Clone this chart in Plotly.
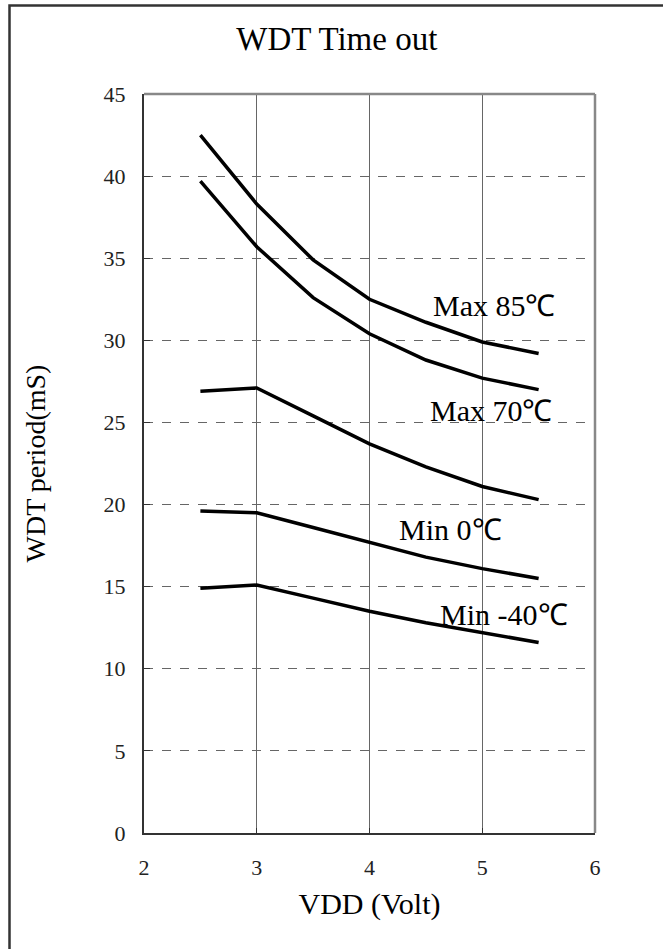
import plotly.graph_objects as go

vdd = [2.5, 3.0, 3.5, 4.0, 4.5, 5.0, 5.5]
max_85 = [42.5, 38.3, 34.9, 32.5, 31.1, 29.9, 29.2]
max_70 = [39.7, 35.7, 32.6, 30.4, 28.8, 27.7, 27.0]
typ_25 = [26.9, 27.1, 25.4, 23.7, 22.3, 21.1, 20.3]
min_0 = [19.6, 19.5, 18.6, 17.7, 16.8, 16.1, 15.5]
min_m40 = [14.9, 15.1, 14.3, 13.5, 12.8, 12.2, 11.6]

series = [("Max 85℃", max_85), ("Max 70℃", max_70), ("Typ", typ_25),
          ("Min 0℃", min_0), ("Min -40℃", min_m40)]

labels = ["Max 85℃", "Max 70℃", "Min 0℃", "Min -40℃"]
label_x = [5.11, 5.08, 4.72, 5.19]
label_y = [32.1, 25.75, 18.5, 13.3]

x_ticks = [2, 3, 4, 5, 6]
y_ticks = [0, 5, 10, 15, 20, 25, 30, 35, 40, 45]

FONT = "Liberation Serif"

fig = go.Figure()
for name, vals in series:
    fig.add_trace(go.Scatter(x=vdd, y=vals, mode="lines", name=name,
                             line=dict(color="black", width=3.5),
                             showlegend=False))

for t, xv, yv in zip(labels, label_x, label_y):
    fig.add_annotation(x=xv, y=yv, text=t, showarrow=False,
                       font=dict(family=FONT, size=30, color="black"),
                       xanchor="center", yanchor="middle")

fig.update_layout(
    width=663, height=949,
    margin=dict(l=144, r=68, t=94, b=116),
    paper_bgcolor="white", plot_bgcolor="white",
    font=dict(family=FONT, color="black"),
    title=dict(text="WDT Time out", x=0.508, xref="container", xanchor="center",
               y=1 - 38 / 949, yref="container", yanchor="middle",
               font=dict(family=FONT, size=33, color="black")),
    xaxis=dict(range=[2, 6], tickvals=x_ticks, ticktext=[str(v) for v in x_ticks],
               showgrid=True, gridcolor="#666", gridwidth=1,
               showline=True, linecolor="#333", linewidth=2,
               ticks="inside", ticklen=5, tickcolor="#333",
               tickfont=dict(family=FONT, size=22, color="#222"),
               ticklabelstandoff=14, zeroline=False,
               title=dict(text="VDD (Volt)", standoff=14,
                          font=dict(family=FONT, size=30, color="black"))),
    yaxis=dict(range=[0, 45], tickvals=y_ticks, ticktext=[str(v) for v in y_ticks],
               showgrid=True, gridcolor="#666", gridwidth=1, griddash="dash",
               showline=True, linecolor="#333", linewidth=2,
               ticks="inside", ticklen=6, tickcolor="#333",
               tickfont=dict(family=FONT, size=22, color="#222"),
               ticklabelstandoff=12, zeroline=False,
               title=dict(text="WDT period(mS)", standoff=50,
                          font=dict(family=FONT, size=28, color="black"))),
    shapes=[
        dict(type="line", xref="paper", yref="paper", x0=0, x1=1, y0=1, y1=1,
             line=dict(color="#888", width=2.5)),
        dict(type="line", xref="paper", yref="paper", x0=1, x1=1, y0=0, y1=1,
             line=dict(color="#888", width=2.5)),
        dict(type="rect", xref="paper", yref="paper",
             x0=(9.5 - 144) / 451, x1=1.3, y0=-0.3, y1=(833 - 5.5) / 739,
             line=dict(color="#333", width=2.5), fillcolor="rgba(0,0,0,0)"),
    ],
)

fig.write_html("out.html")
